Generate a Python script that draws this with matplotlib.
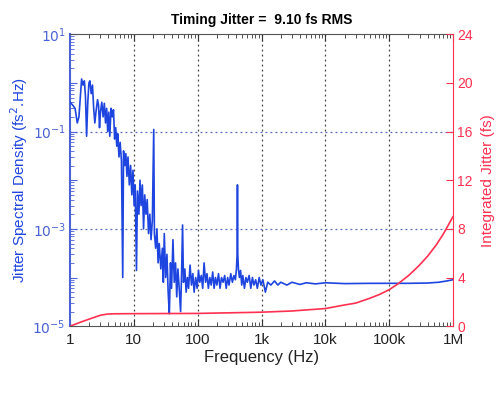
import numpy as np
import matplotlib
matplotlib.use('Agg')
import matplotlib.pyplot as plt
from matplotlib.ticker import FixedLocator, LogLocator, NullFormatter, FixedFormatter

plt.rcParams['font.family'] = ['Liberation Sans', 'DejaVu Sans']

# jitter spectral density (fs^2/Hz)
psd_freq = [1.0, 1.1, 1.2, 1.3, 1.38, 1.45, 1.52, 1.6, 1.68, 1.75, 1.82, 1.9, 1.98, 2.05,
            2.15, 2.25, 2.35, 2.45, 2.55, 2.7, 2.8, 2.9, 3.0, 3.15, 3.3, 3.45, 3.6, 3.75,
            3.9, 4.05, 4.2, 4.4, 4.6, 4.8, 5.0, 5.2, 5.4, 5.6, 5.85, 6.1, 6.4, 6.7, 6.9,
            7.2, 7.5, 7.8, 8.1, 8.5, 8.9, 9.3, 9.7, 10.1, 10.5, 11, 11.4, 12, 12.5, 13,
            13.6, 14.2, 14.8, 15.5, 16.2, 17, 17.8, 18.6, 19.5, 20.5, 21, 22, 23, 24, 25,
            26.5, 28, 29, 30, 31.5, 33, 34.5, 36, 37.5, 39, 41, 43, 45, 47, 49, 51, 54,
            56, 58, 60, 63, 66, 69, 72, 76, 80, 84, 88, 93, 98, 103, 108, 114, 120, 126,
            133, 140, 147, 155, 163, 172, 181, 190, 200, 212, 224, 236, 250, 265, 280,
            295, 310, 330, 350, 370, 390, 405, 415, 420, 425, 435, 450, 470, 490, 510,
            540, 570, 600, 640, 680, 720, 760, 810, 860, 920, 980, 1050, 1150, 1250,
            1400, 1600, 1800, 2000, 2500, 3000, 4000, 5000, 7000, 1e4, 2e4, 5e4, 1e5,
            2e5, 4e5, 6e5, 8e5, 1e6]
psd_val = [0.4, 0.35, 0.3, 0.15, 0.2, 0.5, 1.2, 0.9, 1.1, 0.5, 0.08, 0.4, 1.0, 1.1,
           0.6, 0.9, 0.3, 0.15, 0.25, 0.45, 0.35, 0.12, 0.25, 0.4, 0.2, 0.38, 0.15, 0.3,
           0.1, 0.25, 0.08, 0.3, 0.2, 0.28, 0.07, 0.12, 0.05, 0.09, 0.03, 0.06, 0.025,
           1e-4, 0.04, 0.02, 0.035, 0.012, 0.03, 0.008, 0.02, 0.005, 0.016, 0.003, 0.008,
           1.4e-4, 0.006, 0.002, 0.01, 0.003, 0.008, 0.001, 0.005, 0.002, 0.004, 8e-4,
           2e-3, 6e-4, 1.5e-3, 0.11, 8e-4, 4e-4, 1e-3, 2e-4, 5e-4, 1.5e-4, 4e-4, 8e-5,
           8e-4, 1e-4, 3e-4, 5e-5, 1.8e-5, 2e-4, 6e-5, 6e-4, 8e-5, 2e-4, 4e-5, 1.5e-4,
           7e-5, 2e-5, 1.2e-4, 1.2e-3, 8e-5, 1.5e-4, 5e-5, 1e-4, 6e-5, 1.8e-4, 7e-5,
           1.2e-4, 5e-5, 1e-4, 6e-5, 1.4e-4, 8e-5, 1.1e-4, 6e-5, 2e-4, 8e-5, 1.2e-4,
           6e-5, 1e-4, 7e-5, 1.3e-4, 6e-5, 1e-4, 7e-5, 1.2e-4, 6e-5, 1e-4, 8e-5, 1.1e-4,
           6e-5, 1e-4, 7e-5, 1.2e-4, 8e-5, 1.1e-4, 9e-5, 1.5e-4, 3e-4, 8e-3, 3e-4,
           1.5e-4, 1e-4, 1.4e-4, 7e-5, 1.1e-4, 6e-5, 1e-4, 8e-5, 1.1e-4, 6e-5, 1e-4,
           7e-5, 9e-5, 6e-5, 1e-4, 7e-5, 9e-5, 5e-5, 8e-5, 7e-5, 8.5e-5, 7e-5, 8e-5,
           7e-5, 8e-5, 7.2e-5, 7.8e-5, 7.4e-5, 7.8e-5, 7.5e-5, 7.6e-5, 7.6e-5, 7.6e-5,
           7.7e-5, 8e-5, 8.5e-5, 9e-5]

# integrated jitter (fs)
int_freq = [1, 1.5, 2.2, 3, 3.9, 5, 10, 100, 1000, 3000, 1e4, 1.8e4, 3e4, 5e4, 7e4,
            1e5, 1.35e5, 2e5, 2.9e5, 4e5, 5.5e5, 7e5, 1e6]
int_val = [0.0, 0.35, 0.66, 0.9, 1.0, 1.02, 1.03, 1.05, 1.15, 1.25, 1.45, 1.7, 1.9,
           2.3, 2.6, 3.0, 3.45, 4.15, 4.95, 5.75, 6.7, 7.55, 9.0]

blue = '#1e45e0'
red = '#ff3050'
lblue = '#4a63d6'

fig = plt.figure(figsize=(5.0, 3.93), dpi=100)
ax = fig.add_axes([0.14, 0.17, 0.766, 0.743])
ax2 = ax.twinx()

ax.plot(psd_freq, psd_val, color=blue, lw=1.2, zorder=3)
ax2.plot(int_freq, int_val, color=red, lw=1.2)

ax.set_xscale('log')
ax.set_yscale('log')
ax.set_xlim(1, 1e6)
ax.set_ylim(1e-5, 1e1)
ax2.set_ylim(0, 24)
ax2.set_yticks(range(0, 25, 4))

# x ticks
ax.xaxis.set_major_locator(FixedLocator([1, 10, 100, 1e3, 1e4, 1e5, 1e6]))
ax.xaxis.set_major_formatter(FixedFormatter(['1', '10', '100', '1k', '10k', '100k', '1M']))
ax.xaxis.set_minor_locator(LogLocator(base=10, subs=np.arange(2, 10), numticks=20))
ax.xaxis.set_minor_formatter(NullFormatter())

# y ticks: every decade, labels on odd ones
ax.yaxis.set_major_locator(FixedLocator([10.0**k for k in range(-5, 2)]))
ax.yaxis.set_major_formatter(FixedFormatter(
    [r'$10^{%d}$' % k if k % 2 else '' for k in range(-5, 2)]))
ax.yaxis.set_minor_locator(LogLocator(base=10, subs=np.arange(2, 10), numticks=20))
ax.yaxis.set_minor_formatter(NullFormatter())

ax.tick_params(axis='x', which='both', direction='in', top=True, colors='#333333',
               labelsize=11, labelcolor='#222222', pad=5)
ax.tick_params(axis='x', which='major', length=5)
ax.tick_params(axis='x', which='minor', length=3)
ax.tick_params(axis='y', which='both', direction='in', colors=lblue, labelsize=10,
               labelcolor=lblue, pad=3)
ax.tick_params(axis='y', which='major', length=5)
ax.tick_params(axis='y', which='minor', length=3)
ax2.tick_params(axis='y', direction='in', colors=red, labelsize=10, length=5, pad=3)

# grid lines
for xv in [10, 100, 1e3, 1e4, 1e5]:
    ax.axvline(xv, color='#444444', ls=(0, (1.5, 2.5)), lw=0.9, zorder=1)
for yv in [1e-1, 1e-3]:
    ax.axhline(yv, color='#5566bb', ls=(0, (1.5, 2.5)), lw=0.9, zorder=1)

ax.spines['left'].set_color(lblue)
ax.spines['left'].set_linewidth(1.5)
ax.spines['right'].set_visible(False)
ax.spines['top'].set_color('#555555')
ax.spines['bottom'].set_color('#555555')
ax2.spines['right'].set_color(red)
ax2.spines['left'].set_visible(False)
ax2.spines['top'].set_visible(False)
ax2.spines['bottom'].set_visible(False)

ax.set_xlabel('Frequency (Hz)', fontsize=12, color='#222222', labelpad=2)
ax.set_ylabel(r'Jitter Spectral Density (fs$^2$.Hz)', fontsize=11, color=blue)
ax.yaxis.set_label_coords(-0.105, 0.5)
ax2.set_ylabel('Integrated Jitter (fs)', fontsize=11, color=red, labelpad=6)
ax.set_title('Timing Jitter =  9.10 fs RMS', fontsize=10, fontweight='bold', pad=7)

fig.savefig('out.png', dpi=100)
